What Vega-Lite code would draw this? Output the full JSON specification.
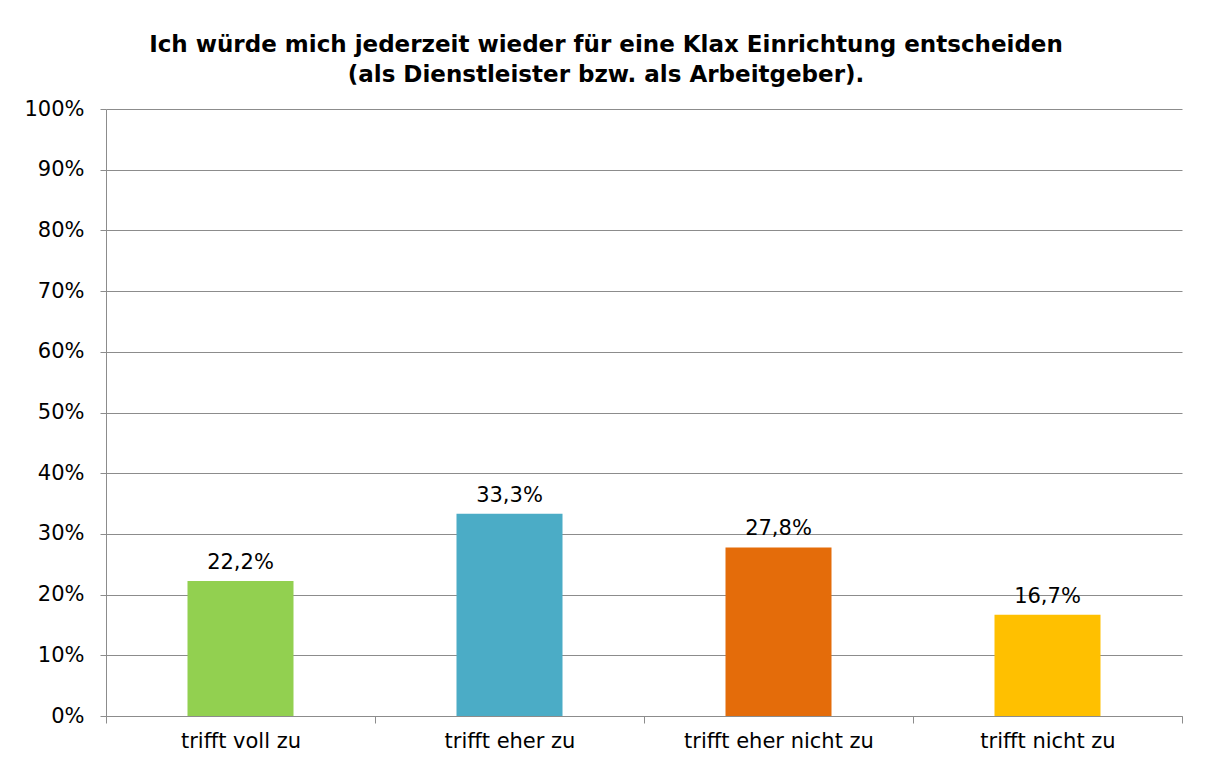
{
  "$schema": "https://vega.github.io/schema/vega-lite/v6.json",
  "width": 1076,
  "height": 607,
  "autosize": {"type": "none"},
  "padding": {"left": 106, "top": 109, "right": 24, "bottom": 48},
  "background": "white",
  "title": {
    "text": ["Ich würde mich jederzeit wieder für eine Klax Einrichtung entscheiden", "(als Dienstleister bzw. als Arbeitgeber)."],
    "font": "DejaVu Sans",
    "fontSize": 23,
    "fontWeight": "bold",
    "color": "black",
    "lineHeight": 30,
    "anchor": "middle",
    "frame": "group",
    "dx": -38,
    "offset": 11
  },
  "data": {
    "values": [
      {"Antwort": "trifft voll zu", "Anteil": 0.2222},
      {"Antwort": "trifft eher zu", "Anteil": 0.3333},
      {"Antwort": "trifft eher nicht zu", "Anteil": 0.2778},
      {"Antwort": "trifft nicht zu", "Anteil": 0.1667}
    ]
  },
  "encoding": {
    "x": {
      "field": "Antwort",
      "type": "nominal",
      "sort": null,
      "scale": {"paddingInner": 0, "paddingOuter": 0},
      "axis": {
        "title": null,
        "labelAngle": 0,
        "labelLimit": 400,
        "tickBand": "extent",
        "tickSize": 7,
        "tickColor": "#8c8c8c",
        "domainColor": "#8c8c8c",
        "labelFont": "DejaVu Sans",
        "labelFontSize": 21,
        "labelColor": "black",
        "labelPadding": 7,
        "grid": false
      }
    },
    "y": {
      "field": "Anteil",
      "type": "quantitative",
      "scale": {"domain": [0, 1], "nice": false},
      "axis": {
        "title": null,
        "format": ".0%",
        "values": [0, 0.1, 0.2, 0.3, 0.4, 0.5, 0.6, 0.7, 0.8, 0.9, 1],
        "tickSize": 6,
        "tickColor": "#8c8c8c",
        "domainColor": "#8c8c8c",
        "gridColor": "#8c8c8c",
        "grid": true,
        "labelFont": "DejaVu Sans",
        "labelFontSize": 21,
        "labelColor": "black",
        "labelPadding": 16
      }
    }
  },
  "layer": [
    {
      "mark": {"type": "bar", "size": 106},
      "encoding": {
        "color": {
          "field": "Antwort",
          "type": "nominal",
          "sort": null,
          "scale": {
            "domain": ["trifft voll zu", "trifft eher zu", "trifft eher nicht zu", "trifft nicht zu"],
            "range": ["#92D050", "#4BACC6", "#E46C0A", "#FFC000"]
          },
          "legend": null
        }
      }
    },
    {
      "mark": {"type": "text", "baseline": "alphabetic", "dy": -12, "font": "DejaVu Sans", "fontSize": 21, "color": "black"},
      "encoding": {
        "text": {"field": "Anteil", "type": "quantitative", "format": ".1%"}
      }
    }
  ],
  "config": {
    "view": {"stroke": null},
    "locale": {
      "number": {"decimal": ",", "thousands": ".", "grouping": [3], "currency": ["", " €"]}
    }
  }
}
